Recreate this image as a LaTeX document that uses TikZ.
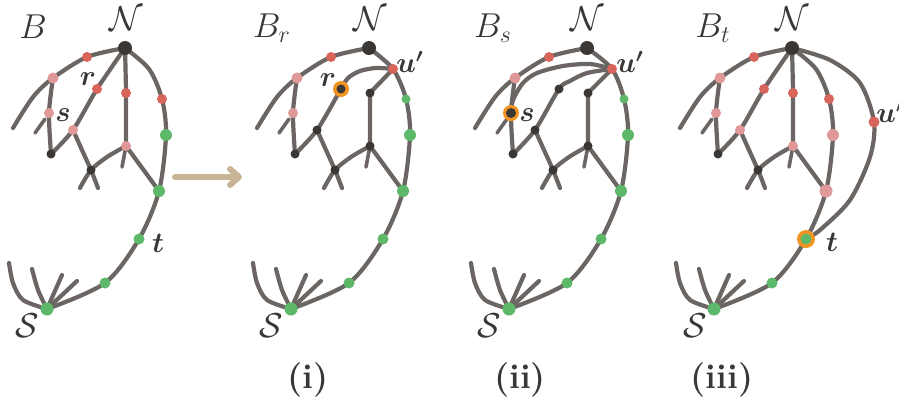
\documentclass[tikz,border=0pt]{standalone}
\usepackage{amsmath}
\usepackage{tikz}
\usetikzlibrary{arrows.meta}

\definecolor{edgegray}{HTML}{6B6663}
\definecolor{darkdot}{HTML}{3A3735}
\definecolor{reddot}{HTML}{D9645B}
\definecolor{pinkdot}{HTML}{E09898}
\definecolor{greendot}{HTML}{5DB86A}
\definecolor{ringorange}{HTML}{F29422}
\definecolor{arrowtan}{HTML}{C8B595}

\tikzset{
  edge/.style={draw=edgegray, line width=2.1pt, line cap=round, line join=round},
  stub/.style={edge, line width=1.8pt},
  vtx/.style 2 args={circle, inner sep=0pt, fill=#1, minimum size=#2},
  ringdot/.style={circle, inner sep=0pt, fill=ringorange, minimum size=#1},
  lbl/.style={text=darkdot, inner sep=0pt},
  tanarrow/.style={draw=arrowtan, line width=3pt, line cap=round,
    -{Straight Barb[length=4.5pt, width=8pt, round]}}
}

% points of one panel
\newcommand{\graphpts}{%
  \coordinate (N) at (125,48);
  \coordinate (L1) at (87,57);
  \coordinate (L2) at (53,78);
  \coordinate (Lm) at (33,97);
  \coordinate (Le) at (13,128);
  \coordinate (s) at (49,113);
  \coordinate (sa) at (45,119);
  \coordinate (sb) at (35,133);
  \coordinate (D1) at (51,154);
  \coordinate (r) at (97,89);
  \coordinate (P) at (73,130);
  \coordinate (px) at (82,150);
  \coordinate (X) at (91,170);
  \coordinate (Xa) at (80,188);
  \coordinate (Xb) at (98,188);
  \coordinate (qx) at (107,157);
  \coordinate (M) at (126,93);
  \coordinate (Q) at (126,146);
  \coordinate (Qs) at (122,167);
  \coordinate (U) at (149,69);
  \coordinate (R1) at (162,99);
  \coordinate (R2) at (166,135);
  \coordinate (G1) at (159,191);
  \coordinate (T) at (139,239);
  \coordinate (G2) at (105,283);
  \coordinate (S) at (47,309);
  \coordinate (fa1) at (23,300);
  \coordinate (fa2) at (13,283);
  \coordinate (Fa) at (9,263);
  \coordinate (fb) at (38,290);
  \coordinate (Fb) at (32,269);
  \coordinate (Fc) at (62,275);
  \coordinate (Fd) at (77,281);
}

% edges every panel has
\newcommand{\sharededges}{%
  \draw[edge] plot[smooth] coordinates {(N) (L1) (L2) (Lm) (Le)};
  \draw[edge] plot[smooth] coordinates {(L2) (s) (D1)};
  \draw[stub] (sa) -- (sb);
  \draw[edge] plot[smooth] coordinates {(P) (px) (X) (Xb)};
  \draw[edge] plot[smooth] coordinates {(Q) (qx) (X) (Xa)};
  \draw[stub] (Q) -- (Qs);
  \draw[edge] (Q) -- (G1);
  \draw[edge] plot[smooth] coordinates {(N) (U) (R1) (R2) (G1) (T) (G2) (S)};
  \draw[edge] plot[smooth] coordinates {(S) (fa1) (fa2) (Fa)};
  \draw[edge] plot[smooth] coordinates {(S) (fb) (Fb)};
  \draw[edge] (S) -- (Fc);
  \draw[edge] (S) -- (Fd);
}

\begin{document}
\begin{tikzpicture}[x=0.5pt, y=-0.5pt]
  \useasboundingbox (0,0) rectangle (899,398);

  % panel B
  \begin{scope}
    \graphpts
    \sharededges
    \draw[edge] plot[smooth] coordinates {(D1) (P) (r) (N)};
    \draw[edge] plot[smooth] coordinates {(N) (M) (Q)};
    \foreach \c/\col/\sz in {N/darkdot/7pt, L1/reddot/5pt, L2/pinkdot/5.5pt, s/pinkdot/5pt,
        r/reddot/5pt, P/pinkdot/5pt, D1/darkdot/4.5pt, X/darkdot/4.5pt, M/reddot/5pt,
        Q/pinkdot/5pt, R1/reddot/5pt, R2/greendot/6pt, G1/greendot/6pt, T/greendot/5.5pt,
        G2/greendot/5.5pt, S/greendot/6.5pt}
      \node[vtx={\col}{\sz}] (a\c) at (\c) {};
  \end{scope}

  % arrow between B and B_r
  \coordinate (arA) at (175,177);
  \coordinate (arB) at (242,177);
  \draw[tanarrow] (arA) -- (arB);

  % panel B_r
  \begin{scope}[shift={(244,0)}]
    \graphpts
    \coordinate (r1) at (104,78);
    \coordinate (r2) at (116,71);
    \coordinate (r3) at (132,68);
    \sharededges
    \draw[edge] plot[smooth] coordinates {(D1) (P) (r) (r1) (r2) (r3) (U)};
    \draw[edge] (U) -- (M) -- (Q);
    \node[ringdot=8pt] (bring) at (r) {};
    \foreach \c/\col/\sz in {N/darkdot/7pt, L1/reddot/5pt, L2/pinkdot/5.5pt, s/pinkdot/5pt,
        r/darkdot/4.5pt, P/darkdot/4.5pt, D1/darkdot/4.5pt, X/darkdot/4.5pt, M/darkdot/4.5pt,
        Q/darkdot/4.5pt, U/reddot/5pt, R1/greendot/4.5pt, R2/greendot/6pt, G1/greendot/6pt,
        T/greendot/5.5pt, G2/greendot/5.5pt, S/greendot/6.5pt}
      \node[vtx={\col}{\sz}] (b\c) at (\c) {};
  \end{scope}

  % panel B_s
  \begin{scope}[shift={(462,0)}]
    \graphpts
    \coordinate (U) at (150,69);
    \coordinate (q1) at (108,81);
    \coordinate (q2) at (125,73);
    \coordinate (w1) at (51,100);
    \coordinate (w2) at (61,83);
    \coordinate (w3) at (75,73);
    \coordinate (w4) at (101,66);
    \coordinate (w5) at (128,64);
    \sharededges
    \draw[edge] plot[smooth] coordinates {(D1) (P) (r) (q1) (q2) (U)};
    \draw[edge] plot[smooth] coordinates {(s) (w1) (w2) (w3) (w4) (w5) (U)};
    \draw[edge] (U) -- (M) -- (Q);
    \node[ringdot=8pt] (cring) at (s) {};
    \foreach \c/\col/\sz in {N/darkdot/7pt, L1/reddot/5pt, L2/pinkdot/5.5pt, s/darkdot/5pt,
        r/darkdot/4.5pt, P/darkdot/4.5pt, D1/darkdot/4.5pt, X/darkdot/4.5pt, M/darkdot/4.5pt,
        Q/darkdot/4.5pt, U/reddot/5pt, R1/greendot/4.5pt, R2/greendot/6pt, G1/greendot/6pt,
        T/greendot/5.5pt, G2/greendot/5.5pt, S/greendot/6.5pt}
      \node[vtx={\col}{\sz}] (c\c) at (\c) {};
  \end{scope}

  % panel B_t
  \begin{scope}[shift={(667,0)}]
    \graphpts
    \coordinate (v1) at (163,60);
    \coordinate (v2) at (193,83);
    \coordinate (U4) at (207,122);
    \coordinate (v3) at (203,157);
    \coordinate (v4) at (183,200);
    \coordinate (v5) at (153,230);
    \sharededges
    \draw[edge] plot[smooth] coordinates {(D1) (P) (r) (N)};
    \draw[edge] plot[smooth] coordinates {(N) (M) (Q)};
    \draw[edge] plot[smooth] coordinates {(N) (v1) (v2) (U4) (v3) (v4) (v5) (T)};
    \node[ringdot=9pt] (dring) at (T) {};
    \foreach \c/\col/\sz in {N/darkdot/7pt, L1/reddot/5pt, L2/pinkdot/5.5pt, s/pinkdot/5pt,
        r/reddot/5pt, P/pinkdot/5pt, D1/darkdot/4.5pt, X/darkdot/4.5pt, M/reddot/5pt,
        Q/pinkdot/5pt, R1/reddot/5pt, R2/pinkdot/6pt, G1/pinkdot/6.5pt, T/greendot/5.5pt,
        G2/greendot/5.5pt, S/greendot/6.5pt, U4/reddot/5.5pt}
      \node[vtx={\col}{\sz}] (d\c) at (\c) {};
  \end{scope}

  % labels
  \node[lbl, font=\LARGE] (tB1) at (33,27) {$B$};
  \node[lbl, font=\LARGE] (tN1) at (126,19) {$\mathcal{N}$};
  \node[lbl, font=\Large] (tr1) at (88,79) {$\boldsymbol{r}$};
  \node[lbl, font=\Large] (ts1) at (63,115) {$\boldsymbol{s}$};
  \node[lbl, font=\Large] (tt1) at (158,243) {$\boldsymbol{t}$};
  \node[lbl, font=\LARGE] (tS1) at (27,326) {$\mathcal{S}$};

  \node[lbl, font=\LARGE] (tB2) at (272,28) {$B_r$};
  \node[lbl, font=\LARGE] (tN2) at (370,19) {$\mathcal{N}$};
  \node[lbl, font=\Large] (tr2) at (328,80) {$\boldsymbol{r}$};
  \node[lbl, font=\Large] (tu2) at (410,62) {$\boldsymbol{u'}$};
  \node[lbl, font=\LARGE] (tS2) at (271,326) {$\mathcal{S}$};

  \node[lbl, font=\LARGE] (tB3) at (493,28) {$B_s$};
  \node[lbl, font=\LARGE] (tN3) at (587,19) {$\mathcal{N}$};
  \node[lbl, font=\Large] (ts3) at (527,115) {$\boldsymbol{s}$};
  \node[lbl, font=\Large] (tu3) at (630,62) {$\boldsymbol{u'}$};
  \node[lbl, font=\LARGE] (tS3) at (489,326) {$\mathcal{S}$};

  \node[lbl, font=\LARGE] (tB4) at (713,28) {$B_t$};
  \node[lbl, font=\LARGE] (tN4) at (792,19) {$\mathcal{N}$};
  \node[lbl, font=\Large] (tu4) at (890,112) {$\boldsymbol{u'}$};
  \node[lbl, font=\Large] (tt4) at (832,242) {$\boldsymbol{t}$};
  \node[lbl, font=\LARGE] (tS4) at (695,326) {$\mathcal{S}$};

  % captions
  \node[lbl, font=\LARGE\bfseries] (cap1) at (308,380) {(i)};
  \node[lbl, font=\LARGE\bfseries] (cap2) at (520,380) {(ii)};
  \node[lbl, font=\LARGE\bfseries] (cap3) at (722,380) {(iii)};
\end{tikzpicture}
\end{document}
